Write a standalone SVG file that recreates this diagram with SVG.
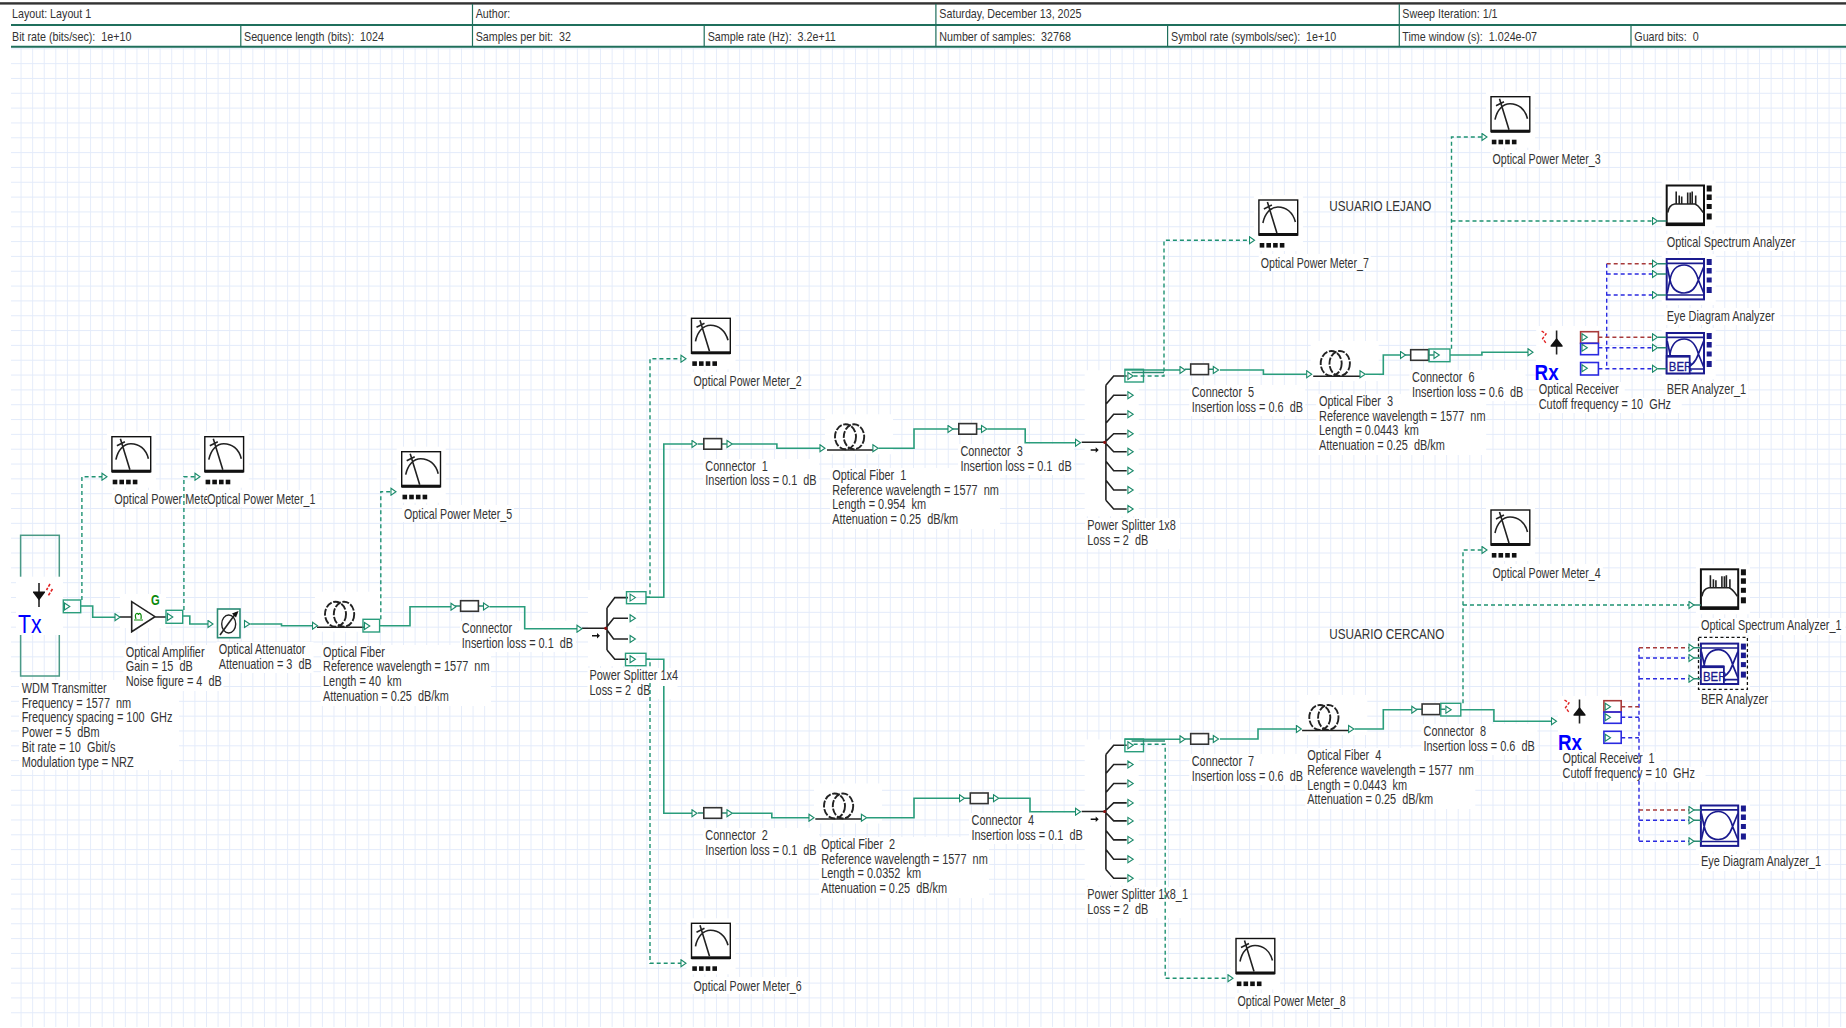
<svg xmlns="http://www.w3.org/2000/svg" width="1846" height="1028" viewBox="0 0 1846 1028">
<style>
text{font-family:"Liberation Sans",Arial,sans-serif;white-space:pre}
.t{font-size:14px;fill:#333}
.h{font-size:13.4px;fill:#333}
.u{font-size:15.4px;fill:#333}
.bg{fill:#fff}
.w{fill:none;stroke:#2a9d7c;stroke-width:1.6;marker-end:url(#tri)}
.d{fill:none;stroke:#1f9272;stroke-width:1.4;stroke-dasharray:4 3}
.da{marker-end:url(#tri)}
.r{fill:none;stroke:#a83a3a;stroke-width:1.4;stroke-dasharray:4 3;marker-end:url(#tri)}
.b{fill:none;stroke:#2a2ae0;stroke-width:1.4;stroke-dasharray:4 3;marker-end:url(#tri)}
.bv{fill:none;stroke:#2a2ae0;stroke-width:1.4;stroke-dasharray:4 3}
.k{fill:none;stroke:#222;stroke-width:1.6}
.pb{fill:none;stroke:#2a9d7c;stroke-width:1.4}
.pt{fill:#fff;stroke:#1a8a6a;stroke-width:1.1}
.lead{fill:none;stroke:#2a8a72;stroke-width:1.5}
.n{fill:none;stroke:#1b1b8f;stroke-width:1.7}
.nf{fill:#1b1b8f}
.blk{fill:#111}
.hl{stroke:#1f6f5c;stroke-width:2}
.hv{stroke:#1f6f5c;stroke-width:1.2}
</style>
<defs>
<pattern id="grid" patternUnits="userSpaceOnUse" x="20.56" y="48.3" width="11.59" height="14.83">
<path d="M0 0V14.83M0 0H11.59" fill="none" stroke="#e3ebfa" stroke-width="1.8"/>
</pattern>
<marker id="tri" markerUnits="userSpaceOnUse" viewBox="0 0 7 9" refX="1" refY="4.5" markerWidth="7" markerHeight="9" orient="auto">
<path d="M1 1L6 4.5L1 8Z" fill="#fff" stroke="#1a8a6a" stroke-width="1.1"/>
</marker>
<path id="p" class="pt" d="M-2.5 -3.5L2.8 0L-2.5 3.5Z"/>
<g id="meter">
<rect class="bg" x="-5" y="-5" width="49" height="56"/>
<rect x="0" y="0" width="38.8" height="35" fill="#fff" stroke="#111" stroke-width="1.4"/>
<rect class="blk" x="0" y="33" width="38.8" height="3"/>
<path class="k" d="M4 23C6 13 12 7 19 7C27 7 34 12 36.5 22M8.5 2L18 33M5 9L13 5"/>
<rect class="blk" x=".8" y="43" width="4.6" height="4.6"/><rect class="blk" x="7.5" y="43" width="4.6" height="4.6"/><rect class="blk" x="14.2" y="43" width="4.6" height="4.6"/><rect class="blk" x="20.9" y="43" width="4.6" height="4.6"/>
</g>
<g id="conn">
<path class="lead" d="M-6 5.3H0M17.8 5.3H23"/>
<rect x="0" y="0" width="17.8" height="10.6" fill="#fff" stroke="#333" stroke-width="1.6"/>
</g>
<g id="fiber">
<rect class="bg" x="-10" y="-10" width="68" height="40"/>
<ellipse cx="10.5" cy="12.5" rx="10.5" ry="12.5" fill="none" stroke="#222" stroke-width="1.9" stroke-dasharray="7 1.6"/>
<ellipse cx="19" cy="12.5" rx="10.2" ry="12.5" fill="none" stroke="#222" stroke-width="1.9" stroke-dasharray="7 1.6"/>
</g>
<g id="s8">
<rect class="bg" x="-20" y="-72" width="54" height="146"/>
<path class="k" d="M-23 0H0M1.2 -57V58M1.2 -57L9 -66.3H22M1.2 -38L9 -47H22M1.2 -19L9 -28H22M0 0L9 -8.6H22M0 0L9 9.4H22M1.2 19L9 28.4H22M1.2 38L9 47.7H22M1.2 58L9 66.7H22"/>
<circle cx="0" cy="0" r="1.6" fill="#8a1010"/>
<path class="blk" d="M-14 7H-9V5L-6 7.7L-9 10.4V8.4H-14Z"/>
<use href="#p" x="25.7" y="-66.3"/><use href="#p" x="25.7" y="-47"/><use href="#p" x="25.7" y="-28"/><use href="#p" x="25.7" y="-8.6"/><use href="#p" x="25.7" y="9.4"/><use href="#p" x="25.7" y="28.4"/><use href="#p" x="25.7" y="47.7"/><use href="#p" x="25.7" y="66.7"/>
</g>
<g id="osa">
<rect class="bg" x="-5" y="-5" width="54" height="50"/>
<rect x="0" y="0" width="37.3" height="39.6" fill="#fff" stroke="#111" stroke-width="2"/>
<rect class="blk" x="0" y="37" width="37.3" height="3.2"/>
<path class="k" d="M1 27C2 21 5 19 8 18.5H28C31 19 33 22 36.5 27M9.5 18.5V6M12.5 18.5V10M15 18.5V11M21 18.5V7M23.5 18.5V7M25.5 18.5V6M29 18.5V10"/>
<rect class="blk" x="40" y="0" width="5" height="6"/><rect class="blk" x="40" y="9" width="5" height="5.5"/><rect class="blk" x="40" y="18.5" width="5" height="5"/><rect class="blk" x="40" y="28" width="5" height="6"/>
</g>
<g id="eye">
<rect class="bg" x="-5" y="-5" width="54" height="51"/>
<rect x="0" y="0" width="37.3" height="40.4" fill="#fff" stroke="#1b1b8f" stroke-width="2"/>
<path class="n" d="M0 4.4H37.3M0 36H37.3"/>
<path class="n" stroke-width="2" d="M3.3 21C5 11 10 6 17.5 6C24 6 29 11 31.7 21C29 29 24 34 17.5 34C10 34 5 29 3.3 21M3.3 21L0.5 8M3.3 21L0.5 34M31.7 21L37 8M31.7 21L37 34"/>
<rect class="nf" x="40" y="0" width="5" height="6"/><rect class="nf" x="40" y="9" width="5" height="5.5"/><rect class="nf" x="40" y="18.5" width="5" height="5"/><rect class="nf" x="40" y="28" width="5" height="6"/>
</g>
<g id="rxd">
<path class="k" d="M0 -12.5V11.5"/>
<path class="blk" d="M-6 2.5L0 -5L6 2.5ZM-6 2.5H6V3.7H-6Z"/>
<path d="M-15 -12L-10.5 -9L-14 -4.5L-10 1" fill="none" stroke="#e02020" stroke-width="1.4" stroke-dasharray="3 1.5"/>
</g>
</defs>

<rect width="1846" height="1028" fill="#fff"/>
<rect id="grid-sheet" x="11" y="48" width="1835" height="979" fill="url(#grid)"/>

<g id="header">
<rect x="0" y="2.2" width="1846" height="2.4" fill="#333"/>
<path class="hl" d="M11 25H1846M11 46.7H1846"/>
<path class="hv" d="M472.5 4V46.7M935.9 4V46.7M1399.3 4V46.7M240.8 25V46.7M704.2 25V46.7M1167.6 25V46.7M1631 25V46.7"/>
<text class="h" transform="matrix(.8 0 0 1 12 18)">Layout: Layout 1</text>
<text class="h" transform="matrix(.8 0 0 1 475.7 18)">Author:</text>
<text class="h" transform="matrix(.8 0 0 1 939.3 18)">Saturday, December 13, 2025</text>
<text class="h" transform="matrix(.8 0 0 1 1402.3 18)">Sweep Iteration: 1/1</text>
<text class="h" transform="matrix(.8 0 0 1 12 41)">Bit rate (bits/sec):  1e+10</text>
<text class="h" transform="matrix(.8 0 0 1 244 41)">Sequence length (bits):  1024</text>
<text class="h" transform="matrix(.8 0 0 1 475.7 41)">Samples per bit:  32</text>
<text class="h" transform="matrix(.8 0 0 1 707.7 41)">Sample rate (Hz):  3.2e+11</text>
<text class="h" transform="matrix(.8 0 0 1 939.3 41)">Number of samples:  32768</text>
<text class="h" transform="matrix(.8 0 0 1 1171 41)">Symbol rate (symbols/sec):  1e+10</text>
<text class="h" transform="matrix(.8 0 0 1 1402.3 41)">Time window (s):  1.024e-07</text>
<text class="h" transform="matrix(.8 0 0 1 1634.3 41)">Guard bits:  0</text>
</g>

<g id="tx">
<rect x="20.6" y="535.3" width="38.7" height="140.7" fill="none" stroke="#4a9a86" stroke-width="1.5"/>
<rect class="bg" x="16" y="576.7" width="47" height="58.3"/>
<path class="k" d="M39 583V607"/>
<path class="blk" d="M33 591.5H45V592.8H33ZM33 592.5H45L39 600.5Z"/>
<path d="M50 584L46.5 590M52.5 589L48 596" fill="none" stroke="#e02020" stroke-width="1.6" stroke-dasharray="3 1.5"/>
<text transform="matrix(.85 0 0 1 18 633)" font-size="25" fill="#0000ff">Tx</text>
<rect class="pb" x="63.3" y="600" width="17.4" height="12.7"/>
<use href="#p" x="67" y="606.5"/>
<rect class="bg" x="19" y="680" width="160" height="90"/>
<text class="t" transform="matrix(.78 0 0 1 21.7 693)"><tspan x="0">WDM Transmitter</tspan><tspan x="0" dy="14.75">Frequency = 1577  nm</tspan><tspan x="0" dy="14.75">Frequency spacing = 100  GHz</tspan><tspan x="0" dy="14.75">Power = 5  dBm</tspan><tspan x="0" dy="14.75">Bit rate = 10  Gbit/s</tspan><tspan x="0" dy="14.75">Modulation type = NRZ</tspan></text>
</g>

<g id="opm">
<use href="#meter" x="111.9" y="436.7"/>
<rect class="bg" x="112" y="490" width="95" height="17"/>
<text class="t" transform="matrix(.78 0 0 1 114.3 504)">Optical Power Mete</text>
</g>
<g id="opm1">
<use href="#meter" x="204.8" y="436.7"/>
<rect class="bg" x="207.4" y="490" width="110" height="17"/>
<text class="t" transform="matrix(.76 0 0 1 207.2 504)">Optical Power Meter_1</text>
</g>
<g id="opm5">
<use href="#meter" x="401.7" y="451.7"/>
<rect class="bg" x="402" y="505" width="112" height="17"/>
<text class="t" transform="matrix(.76 0 0 1 404 519)">Optical Power Meter_5</text>
</g>

<g id="amp">
<rect class="bg" x="120" y="594" width="46" height="34"/>
<path class="k" d="M119.5 617H131.7M155 617H166M131.7 601.7V631.7L155 616.7Z"/>
<path d="M134 620H143M136 619C134 613 138 612 138.5 615C139 612 142 613 141 619" fill="none" stroke="#0a8a0a" stroke-width="1.2"/>
<text transform="matrix(.8 0 0 1 151 605)" font-size="14" font-weight="bold" fill="#0a8a0a">G</text>
<rect class="pb" x="166" y="610.3" width="16.7" height="13"/>
<use href="#p" x="170" y="617"/>
<rect class="bg" x="123.5" y="645" width="100" height="46"/>
<text class="t" transform="matrix(.78 0 0 1 125.7 656.7)"><tspan x="0">Optical Amplifier</tspan><tspan x="0" dy="14.8">Gain = 15  dB</tspan><tspan x="0" dy="14.8">Noise figure = 4  dB</tspan></text>
</g>

<g id="att">
<rect x="217.5" y="609" width="22.5" height="28.7" fill="#fff" stroke="#2a8a74" stroke-width="1.6"/>
<ellipse cx="228.7" cy="624" rx="7" ry="9" fill="none" stroke="#222" stroke-width="1.4"/>
<path class="k" d="M220 635L236 613"/>
<path class="blk" d="M238.5 611L232 613.5L236 617.5Z"/>
<use href="#p" x="247" y="624"/>
<rect class="bg" x="216.5" y="642" width="97" height="31"/>
<text class="t" transform="matrix(.78 0 0 1 218.7 654)"><tspan x="0">Optical Attenuator</tspan><tspan x="0" dy="14.7">Attenuation = 3  dB</tspan></text>
</g>

<g id="fiber0">
<use href="#fiber" x="325" y="601.7"/>
<path class="k" d="M317 627.3H365"/>
<rect class="pb" x="363" y="619.3" width="16.6" height="12.7"/>
<use href="#p" x="367" y="626"/>
<rect class="bg" x="321" y="645" width="170" height="61"/>
<text class="t" transform="matrix(.78 0 0 1 323 656.7)"><tspan x="0">Optical Fiber</tspan><tspan x="0" dy="14.7">Reference wavelength = 1577  nm</tspan><tspan x="0" dy="14.7">Length = 40  km</tspan><tspan x="0" dy="14.7">Attenuation = 0.25  dB/km</tspan></text>
</g>

<g id="connector0">
<use href="#conn" x="460.6" y="600.7"/>
<use href="#p" x="486" y="606.5"/>
<rect class="bg" x="460" y="621" width="116" height="31"/>
<text class="t" transform="matrix(.78 0 0 1 461.8 633.3)"><tspan x="0">Connector</tspan><tspan x="0" dy="14.7">Insertion loss = 0.1  dB</tspan></text>
</g>

<g id="splitter14">
<rect class="bg" x="588" y="590" width="48" height="76"/>
<path class="k" d="M582 628.3H605.7M607 608V650M607 608L614.8 597.6H628M605.7 628.3L613.6 618.3H628M605.7 628.3L613.6 639H628M607 650L614.8 659.3H628"/>
<circle cx="605.7" cy="628.3" r="1.6" fill="#8a1010"/>
<path class="blk" d="M592 635H597V633L600 635.7L597 638.4V636.4H592Z"/>
<use href="#p" x="632.6" y="597.6"/><use href="#p" x="632.6" y="618.3"/><use href="#p" x="632.6" y="639"/><use href="#p" x="632.6" y="659.3"/>
<rect class="pb" x="626.5" y="591.7" width="19.5" height="12"/>
<rect class="pb" x="625.5" y="653.3" width="20.5" height="12.4"/>
<rect class="bg" x="587.5" y="668" width="90" height="31"/>
<text class="t" transform="matrix(.78 0 0 1 589.5 680.3)"><tspan x="0">Power Splitter 1x4</tspan><tspan x="0" dy="14.7">Loss = 2  dB</tspan></text>
</g>

<g id="opm2">
<use href="#meter" x="691.5" y="318.3"/>
<rect class="bg" x="691" y="372" width="112" height="17"/>
<text class="t" transform="matrix(.76 0 0 1 693.5 385.7)">Optical Power Meter_2</text>
</g>
<g id="opm6">
<use href="#meter" x="691.5" y="923.3"/>
<rect class="bg" x="691" y="977" width="112" height="17"/>
<text class="t" transform="matrix(.76 0 0 1 693.5 991)">Optical Power Meter_6</text>
</g>

<g id="connector1">
<use href="#conn" x="703.8" y="438.6"/>
<use href="#p" x="729.5" y="444"/>
<rect class="bg" x="703" y="459" width="116" height="31"/>
<text class="t" transform="matrix(.78 0 0 1 705.3 470.7)"><tspan x="0">Connector  1</tspan><tspan x="0" dy="14.8">Insertion loss = 0.1  dB</tspan></text>
</g>
<g id="fiber1">
<use href="#fiber" x="835" y="424.3"/>
<path class="k" d="M827 450H875"/>
<use href="#p" x="875.4" y="448.3"/>
<rect class="bg" x="830" y="468" width="170" height="61"/>
<text class="t" transform="matrix(.78 0 0 1 832.3 480)"><tspan x="0">Optical Fiber  1</tspan><tspan x="0" dy="14.7">Reference wavelength = 1577  nm</tspan><tspan x="0" dy="14.7">Length = 0.954  km</tspan><tspan x="0" dy="14.7">Attenuation = 0.25  dB/km</tspan></text>
</g>
<g id="connector3">
<use href="#conn" x="958.8" y="423.6"/>
<use href="#p" x="984" y="429"/>
<rect class="bg" x="958" y="444" width="116" height="31"/>
<text class="t" transform="matrix(.78 0 0 1 960.4 456)"><tspan x="0">Connector  3</tspan><tspan x="0" dy="14.8">Insertion loss = 0.1  dB</tspan></text>
</g>
<g id="splitter18">
<use href="#s8" x="1104.7" y="442.3"/>
<rect class="bg" x="1085" y="518" width="95" height="31"/>
<text class="t" transform="matrix(.78 0 0 1 1087.3 530)"><tspan x="0">Power Splitter 1x8</tspan><tspan x="0" dy="14.8">Loss = 2  dB</tspan></text>
<rect class="pb" x="1124.9" y="369.3" width="18.6" height="12.7"/>
</g>
<g id="connector5" transform="translate(-.7 0)">
<use href="#conn" x="1191.4" y="364"/>
<use href="#p" x="1216.5" y="370"/>
<rect class="bg" x="1190" y="385" width="116" height="31"/>
<text class="t" transform="matrix(.78 0 0 1 1192.4 396.7)"><tspan x="0">Connector  5</tspan><tspan x="0" dy="15">Insertion loss = 0.6  dB</tspan></text>
</g>
<g id="fiber3" transform="translate(-1.8 0)">
<use href="#fiber" x="1322.5" y="351"/>
<path class="k" d="M1315 376.3H1362"/>
<use href="#p" x="1364.3" y="374.3"/>
<rect class="bg" x="1318" y="394" width="170" height="61"/>
<text class="t" transform="matrix(.78 0 0 1 1320.8 406)"><tspan x="0">Optical Fiber  3</tspan><tspan x="0" dy="14.7">Reference wavelength = 1577  nm</tspan><tspan x="0" dy="14.7">Length = 0.0443  km</tspan><tspan x="0" dy="14.7">Attenuation = 0.25  dB/km</tspan></text>
</g>
<g id="connector6" transform="translate(-2.5 0)">
<use href="#conn" x="1413.2" y="349.7"/>
<rect class="pb" x="1431.5" y="349" width="21" height="12.7"/>
<use href="#p" x="1439" y="355"/>
<rect class="bg" x="1412" y="370" width="116" height="31"/>
<text class="t" transform="matrix(.78 0 0 1 1414.5 382.3)"><tspan x="0">Connector  6</tspan><tspan x="0" dy="15">Insertion loss = 0.6  dB</tspan></text>
</g>
<g id="opm7" transform="translate(-1.3 0)">
<use href="#meter" x="1260.2" y="200"/>
<rect class="bg" x="1260" y="254" width="112" height="17"/>
<text class="t" transform="matrix(.76 0 0 1 1262 268)">Optical Power Meter_7</text>
</g>
<g id="opm3" transform="translate(-3.2 0)">
<use href="#meter" x="1494.2" y="96.7"/>
<rect class="bg" x="1494" y="150" width="112" height="17"/>
<text class="t" transform="matrix(.76 0 0 1 1495.7 164)">Optical Power Meter_3</text>
</g>
<g id="label-lejano" transform="translate(-1.9 0)">
<text class="u" transform="matrix(.76 0 0 1 1331.2 211)">USUARIO LEJANO</text>
</g>
<g id="osa0" transform="translate(-4.6 0)">
<use href="#osa" x="1671.3" y="185.5"/>
<path class="lead" d="M1662.6 221H1671"/>
<rect class="bg" x="1669" y="234" width="136" height="17"/>
<text class="t" transform="matrix(.78 0 0 1 1671.3 246.7)">Optical Spectrum Analyzer</text>
</g>
<g id="eye0" transform="translate(-4.6 0)">
<use href="#eye" x="1671.3" y="259"/>
<path class="lead" d="M1662.6 263.7H1671M1662.6 274H1671M1662.6 295H1671"/>
<rect class="bg" x="1669" y="308" width="116" height="17"/>
<text class="t" transform="matrix(.78 0 0 1 1671.3 320.7)">Eye Diagram Analyzer</text>
</g>
<g id="ber1" transform="translate(-4.6 0)">
<use href="#eye" x="1671.3" y="333"/>
<rect x="1671.3" y="356" width="23" height="17.4" fill="#fff" stroke="#1b1b8f" stroke-width="1.8"/>
<rect class="nf" x="1671.3" y="355" width="23" height="2.6"/>
<text transform="matrix(.95 0 0 1 1673.4 370.5)" font-size="12" fill="#1b1b8f" stroke="#1b1b8f" stroke-width=".3">BER</text>
<path class="lead" d="M1662.6 337.3H1671M1662.6 347.7H1671M1662.6 368.7H1671"/>
<rect class="bg" x="1669" y="381" width="84" height="17"/>
<text class="t" transform="matrix(.78 0 0 1 1671.3 394)">BER Analyzer_1</text>
</g>
<g id="rx1" transform="translate(-3.8 0)">
<rect class="bg" x="1540" y="326" width="62" height="56"/>
<use href="#rxd" x="1560.4" y="343"/>
<text transform="matrix(.855 0 0 1 1538.4 380)" font-size="22" font-weight="bold" fill="#0000ff">Rx</text>
<rect x="1584.4" y="331.7" width="17.8" height="11.6" fill="none" stroke="#a83a3a" stroke-width="1.6"/>
<rect x="1584.4" y="343.3" width="17.8" height="11.4" fill="none" stroke="#2a2ae0" stroke-width="1.6"/>
<rect x="1584.4" y="362.5" width="17.8" height="12.5" fill="none" stroke="#2a2ae0" stroke-width="1.6"/>
<use href="#p" x="1588.3" y="337.3"/><use href="#p" x="1588.3" y="347.7"/><use href="#p" x="1588.3" y="368.3"/>
<rect class="bg" x="1540.5" y="382" width="88" height="16"/>
<rect class="bg" x="1540.5" y="398" width="145" height="15"/>
<text class="t" transform="matrix(.78 0 0 1 1542.5 394.3)"><tspan x="0">Optical Receiver</tspan><tspan x="0" dy="14.7">Cutoff frequency = 10  GHz</tspan></text>
</g>

<g id="connector2">
<use href="#conn" x="703.8" y="807.7"/>
<use href="#p" x="729.5" y="813.3"/>
<rect class="bg" x="703" y="828" width="116" height="31"/>
<text class="t" transform="matrix(.78 0 0 1 705.3 840)"><tspan x="0">Connector  2</tspan><tspan x="0" dy="15">Insertion loss = 0.1  dB</tspan></text>
</g>
<g id="fiber2">
<use href="#fiber" x="824" y="793.5"/>
<path class="k" d="M815.3 819H863"/>
<use href="#p" x="863.9" y="817.7"/>
<rect class="bg" x="819" y="837" width="170" height="61"/>
<text class="t" transform="matrix(.78 0 0 1 821.2 849)"><tspan x="0">Optical Fiber  2</tspan><tspan x="0" dy="14.7">Reference wavelength = 1577  nm</tspan><tspan x="0" dy="14.7">Length = 0.0352  km</tspan><tspan x="0" dy="14.7">Attenuation = 0.25  dB/km</tspan></text>
</g>
<g id="connector4">
<use href="#conn" x="970.3" y="793"/>
<use href="#p" x="996" y="798.3"/>
<rect class="bg" x="969" y="813" width="116" height="31"/>
<text class="t" transform="matrix(.78 0 0 1 971.5 825.3)"><tspan x="0">Connector  4</tspan><tspan x="0" dy="14.8">Insertion loss = 0.1  dB</tspan></text>
</g>
<g id="splitter18-1">
<use href="#s8" x="1104.7" y="811.5"/>
<rect class="bg" x="1085" y="887" width="105" height="31"/>
<text class="t" transform="matrix(.78 0 0 1 1087.3 899)"><tspan x="0">Power Splitter 1x8_1</tspan><tspan x="0" dy="15">Loss = 2  dB</tspan></text>
<rect class="pb" x="1124.9" y="739" width="18.6" height="12.7"/>
</g>
<g id="opm8">
<use href="#meter" x="1236" y="938.5"/>
<rect class="bg" x="1235" y="993" width="112" height="17"/>
<text class="t" transform="matrix(.76 0 0 1 1237.5 1006)">Optical Power Meter_8</text>
</g>
<g id="connector7" transform="translate(-.7 0)">
<use href="#conn" x="1191.4" y="733.6"/>
<use href="#p" x="1216.5" y="739"/>
<rect class="bg" x="1190" y="754" width="116" height="31"/>
<text class="t" transform="matrix(.78 0 0 1 1192.4 766)"><tspan x="0">Connector  7</tspan><tspan x="0" dy="15">Insertion loss = 0.6  dB</tspan></text>
</g>
<g id="fiber4" transform="translate(-1.7 0)">
<use href="#fiber" x="1311" y="705"/>
<path class="k" d="M1303.8 730.5H1352"/>
<use href="#p" x="1352.8" y="729"/>
<rect class="bg" x="1307" y="748" width="170" height="61"/>
<text class="t" transform="matrix(.78 0 0 1 1309 760)"><tspan x="0">Optical Fiber  4</tspan><tspan x="0" dy="14.8">Reference wavelength = 1577  nm</tspan><tspan x="0" dy="14.8">Length = 0.0443  km</tspan><tspan x="0" dy="14.8">Attenuation = 0.25  dB/km</tspan></text>
</g>
<g id="connector8" transform="translate(-2.6 0)">
<use href="#conn" x="1424.7" y="704"/>
<rect class="pb" x="1443.4" y="703.3" width="20" height="12.7"/>
<use href="#p" x="1451" y="709.7"/>
<rect class="bg" x="1424" y="724" width="116" height="31"/>
<text class="t" transform="matrix(.78 0 0 1 1426.1 736)"><tspan x="0">Connector  8</tspan><tspan x="0" dy="15">Insertion loss = 0.6  dB</tspan></text>
</g>
<g id="opm4" transform="translate(-3.2 0)">
<use href="#meter" x="1494.2" y="510"/>
<rect class="bg" x="1494" y="564" width="112" height="17"/>
<text class="t" transform="matrix(.76 0 0 1 1495.7 577.7)">Optical Power Meter_4</text>
</g>
<g id="label-cercano" transform="translate(-1.9 0)">
<text class="u" transform="matrix(.76 0 0 1 1331.2 639)">USUARIO CERCANO</text>
</g>
<g id="osa1" transform="translate(-4.9 0)">
<use href="#osa" x="1705.8" y="569.3"/>
<path class="lead" d="M1698.9 605H1705.8"/>
<rect class="bg" x="1704" y="618" width="146" height="17"/>
<text class="t" transform="matrix(.78 0 0 1 1705.8 630.3)">Optical Spectrum Analyzer_1</text>
</g>
<g id="ber0" transform="translate(-4.9 0)">
<use href="#eye" x="1705.8" y="643.6"/>
<rect x="1705.8" y="666.5" width="23" height="17.5" fill="#fff" stroke="#1b1b8f" stroke-width="1.8"/>
<rect class="nf" x="1705.8" y="665.5" width="23" height="2.6"/>
<text transform="matrix(.95 0 0 1 1707.9 681)" font-size="12" fill="#1b1b8f" stroke="#1b1b8f" stroke-width=".3">BER</text>
<rect x="1703.4" y="637.3" width="48.9" height="52" fill="none" stroke="#111" stroke-width="1.3" stroke-dasharray="3 2.5"/>
<path class="lead" d="M1698.9 647.7H1705.8M1698.9 658H1705.8M1698.9 678.7H1705.8"/>
<rect class="bg" x="1704" y="692" width="72" height="17"/>
<text class="t" transform="matrix(.78 0 0 1 1705.8 704)">BER Analyzer</text>
</g>
<g id="eye1" transform="translate(-4.9 0)">
<use href="#eye" x="1705.8" y="805.5"/>
<path class="lead" d="M1698.9 810H1705.8M1698.9 820.3H1705.8M1698.9 841.3H1705.8"/>
<rect class="bg" x="1704" y="854" width="126" height="17"/>
<text class="t" transform="matrix(.78 0 0 1 1705.8 866.3)">Eye Diagram Analyzer_1</text>
</g>
<g id="rx2" transform="translate(-4 0)">
<rect class="bg" x="1562" y="696" width="64" height="56"/>
<use href="#rxd" x="1583.5" y="712"/>
<text transform="matrix(.855 0 0 1 1562 750)" font-size="22" font-weight="bold" fill="#0000ff">Rx</text>
<rect x="1607.9" y="700.7" width="17.3" height="11.3" fill="none" stroke="#a83a3a" stroke-width="1.6"/>
<rect x="1607.9" y="712" width="17.3" height="11.3" fill="none" stroke="#2a2ae0" stroke-width="1.6"/>
<rect x="1607.9" y="731.3" width="17.3" height="12" fill="none" stroke="#2a2ae0" stroke-width="1.6"/>
<use href="#p" x="1611.7" y="706.7"/><use href="#p" x="1611.7" y="717.3"/><use href="#p" x="1611.7" y="737.7"/>
<rect class="bg" x="1564.5" y="752" width="100" height="15"/>
<rect class="bg" x="1564.5" y="767" width="145" height="15"/>
<text class="t" transform="matrix(.78 0 0 1 1566.5 763.3)"><tspan x="0">Optical Receiver  1</tspan><tspan x="0" dy="15">Cutoff frequency = 10  GHz</tspan></text>
</g>

<g id="connectors">
<path class="w" d="M80.7 606H92.7V617.3H115"/>
<path class="w" d="M182.7 616H189.8V624H208"/>
<path class="w" d="M250.3 624H281.5V625.7H312.5"/>
<path class="w" d="M379.6 625.7H410V606.7H451"/>
<path class="w" d="M489.5 606.7H524.7V628.7H577"/>
<path class="w" d="M646 597.3H663.8V444H692"/>
<path class="w" d="M732.2 444H776.9V448.3H820"/>
<path class="w" d="M878.5 448.3H914V429H948"/>
<path class="w" d="M987.3 429H1025.2V442.7H1075.5"/>
<path class="w" d="M1124.9 370H1180"/>
<path class="lead" d="M1131.6 372.5H1164"/>
<path class="w" d="M1220 370H1263.4V374.3H1306.7"/>
<path class="w" d="M1365.5 374.3H1383.3V355H1400.5"/>
<path class="w" d="M1450 355H1481.9V352.3H1528"/>
<path class="w" d="M646 659.3H663.8V670M663.8 686V813.3H692"/>
<path class="w" d="M732.2 813.3H771.8V817.7H809"/>
<path class="w" d="M866.7 817.7H914V798.3H959.5"/>
<path class="w" d="M999.1 798.3H1030V811.7H1075.5"/>
<path class="w" d="M1124.9 739.3H1180"/>
<path class="lead" d="M1131.6 741H1165"/>
<path class="w" d="M1220 739H1258V729H1296.4"/>
<path class="w" d="M1354.5 729H1383.3V709.7H1411.8"/>
<path class="w" d="M1460.6 709.7H1493.9V721.3H1551.5"/>

<path class="d da" d="M81.9 600V476.7H102"/>
<path class="d da" d="M183.9 610V476.7H195"/>
<path class="d da" d="M380.8 619.3V491.7H391"/>
<path class="d da" d="M646 597.3H650V358.7H681"/>
<path class="d da" d="M646 659.3H650V668M650 683V963.3H681"/>
<path class="d da" d="M1133.6 376H1164V240.3H1249.5"/>
<path class="d da" d="M1133.6 744.3H1165.2V978.3H1228"/>
<path class="d da" d="M1451.5 348.7V137H1482"/>
<path class="d da" d="M1451.5 221H1652.5"/>
<path class="d da" d="M1463 703.3V550H1482"/>
<path class="d da" d="M1463 605H1689"/>

<path class="bv" d="M1606.7 263.7V368.7"/>
<path class="r" d="M1606.7 263.7H1652.5"/>
<path class="b" d="M1606.7 274H1652.5"/>
<path class="b" d="M1606.7 295H1652.5"/>
<path class="r" d="M1598.4 337.3H1652.5"/>
<path class="b" d="M1598.4 347.7H1652.5"/>
<path class="b" d="M1598.4 368.7H1652.5"/>

<path class="bv" d="M1639 647.7V841.3"/>
<path class="r" d="M1639 647.7H1689"/>
<path class="b" d="M1639 658H1689"/>
<path class="b" d="M1639 678.7H1689"/>
<path class="r" d="M1639 810H1689"/>
<path class="b" d="M1639 820.3H1689"/>
<path class="b" d="M1639 841.3H1689"/>
<path class="r" d="M1621.2 706.7H1639" style="marker-end:none"/>
<path class="bv" d="M1621.2 717.3H1639"/>
<path class="bv" d="M1621.2 737.7H1639"/>
</g>
</svg>
